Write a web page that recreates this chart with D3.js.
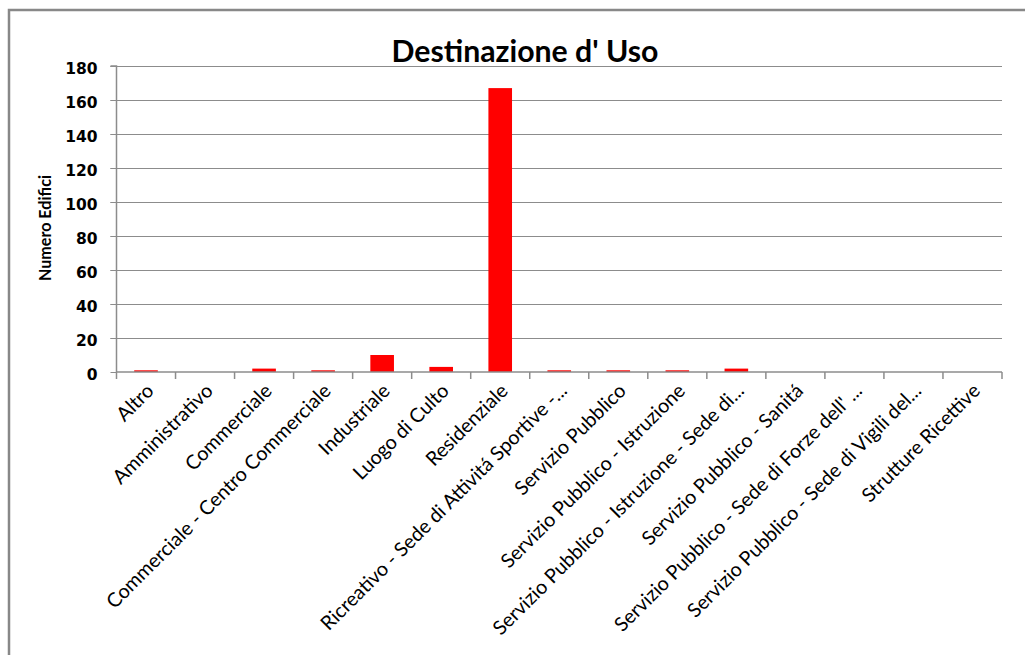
<!DOCTYPE html>
<html>
<head>
<meta charset="utf-8">
<script src="https://cdn.jsdelivr.net/npm/d3@7"></script>
<style>
  html, body { margin: 0; padding: 0; background: #fff; }
  svg { display: block; }
</style>
</head>
<body>
<svg id="chart" width="1025" height="655"></svg>
<script>
// ---- data ----
const categories = [
  "Altro",
  "Amministrativo",
  "Commerciale",
  "Commerciale - Centro Commerciale",
  "Industriale",
  "Luogo di Culto",
  "Residenziale",
  "Ricreativo - Sede di Attivitá Sportive -...",
  "Servizio Pubblico",
  "Servizio Pubblico - Istruzione",
  "Servizio Pubblico - Istruzione - Sede di...",
  "Servizio Pubblico - Sanitá",
  "Servizio Pubblico - Sede di Forze dell' ...",
  "Servizio Pubblico - Sede di Vigili del...",
  "Strutture Ricettive"
];
const values = [1, 0, 2, 1, 10, 3, 167, 1, 1, 1, 2, 0, 0, 0, 0];
const yTicks = [0, 20, 40, 60, 80, 100, 120, 140, 160, 180];
const titleText = "Destinazione d' Uso";
const yTitleText = "Numero Edifici";

// ---- layout ----
const W = 1025, H = 655;
const plot = { left: 116.5, right: 1002, top: 66, bottom: 372 };
const svg = d3.select("#chart");

// chart-area border
svg.append("rect")
  .attr("x", 9).attr("y", 10)
  .attr("width", W + 40).attr("height", H + 40)
  .attr("fill", "#fff").attr("stroke", "#888").attr("stroke-width", 2.5);

// font fitting helper
function fitSize(text, family, weight, target, base) {
  const t = svg.append("text").attr("font-family", family).attr("font-weight", weight)
    .attr("font-size", base).text(text);
  const len = t.node().getComputedTextLength();
  t.remove();
  return base * target / len;
}
const labelFont = "Lato, 'Open Sans', sans-serif";
const labelSize = fitSize("Commerciale - Centro Commerciale", labelFont, "normal", 308, 20);
const titleSize = fitSize(titleText, labelFont, "bold", 267, 30);
const yTitleSize = fitSize(yTitleText, labelFont, "bold", 106, 17);

const xb = d3.scaleBand().domain(categories).range([plot.left, plot.right]).padding(0);
const y = d3.scaleLinear().domain([0, 180]).range([plot.bottom, plot.top]);

// gridlines
svg.append("g").selectAll("line").data(yTicks.filter(d => d > 0)).join("line")
  .attr("x1", plot.left - 6).attr("x2", plot.right)
  .attr("y1", d => Math.round(y(d)) + 0.5).attr("y2", d => Math.round(y(d)) + 0.5)
  .attr("stroke", "#8c8c8c").attr("stroke-width", 1);

// bars (Excel gap width 150%)
const barW = xb.bandwidth() / 2.5;
svg.append("g").selectAll("rect").data(categories).join("rect")
  .attr("x", d => xb(d) + xb.bandwidth() / 2 - barW / 2)
  .attr("width", barW)
  .attr("y", (d, i) => y(values[i]))
  .attr("height", (d, i) => plot.bottom - y(values[i]))
  .attr("fill", "#ff0000");

// y axis
const yAxis = d3.axisLeft(y).tickValues(yTicks).tickSize(6).tickPadding(13);
const gy = svg.append("g").attr("transform", `translate(${plot.left},0)`).call(yAxis);
gy.select(".domain").attr("stroke", "#8c8c8c").attr("stroke-width", 1.5)
  .attr("d", `M-6,${plot.top}H0V${plot.bottom}`);
gy.selectAll(".tick line").attr("stroke", "#8c8c8c");
gy.selectAll(".tick text")
  .attr("font-family", "'DejaVu Sans', sans-serif").attr("font-weight", "bold")
  .attr("font-size", 15.5).attr("fill", "#000").attr("dy", "0.48em");

// x axis
const xAxis = d3.axisBottom(xb).tickSize(0).tickFormat("");
const gx = svg.append("g").attr("transform", `translate(0,${plot.bottom})`).call(xAxis);
gx.select(".domain").attr("stroke", "#8c8c8c").attr("stroke-width", 1.5)
  .attr("d", `M${plot.left},0H${plot.right}`);
const bounds = categories.map(c => xb(c)).concat([plot.right]);
gx.append("g").selectAll("line").data(bounds).join("line")
  .attr("x1", d => d).attr("x2", d => d).attr("y1", 0).attr("y2", 7)
  .attr("stroke", "#8c8c8c").attr("stroke-width", 1.5);

// category labels
svg.append("g").selectAll("text").data(categories).join("text")
  .attr("transform", d => {
    const c = xb(d) + xb.bandwidth() / 2;
    return `translate(${c + 9},${plot.bottom + 20}) rotate(-45)`;
  })
  .attr("text-anchor", "end")
  .attr("font-family", labelFont).attr("font-size", labelSize).attr("fill", "#000")
  .text(d => d);

// title
svg.append("text").attr("x", 525).attr("y", 62)
  .attr("text-anchor", "middle").attr("font-family", labelFont).attr("font-weight", "bold")
  .attr("font-size", titleSize).attr("fill", "#000").text(titleText);

// y title
svg.append("text")
  .attr("transform", `translate(51,${228}) rotate(-90)`)
  .attr("text-anchor", "middle").attr("font-family", labelFont).attr("font-weight", "bold")
  .attr("font-size", yTitleSize).attr("fill", "#000").text(yTitleText);
</script>
</body>
</html>
